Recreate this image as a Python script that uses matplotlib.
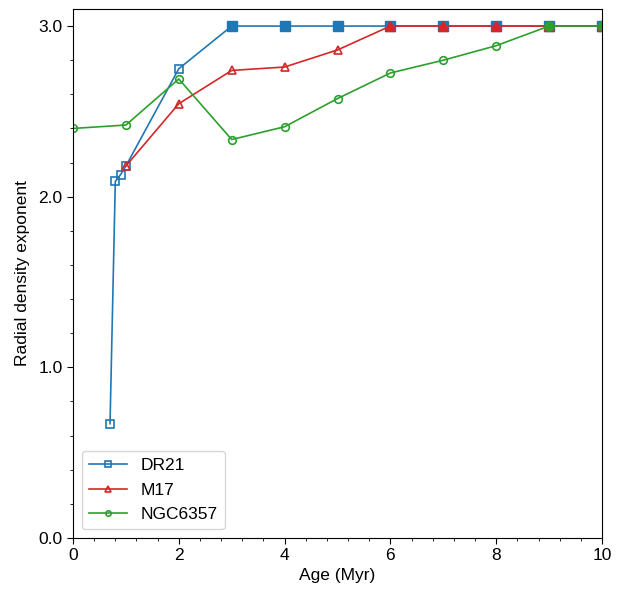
import matplotlib
matplotlib.use("Agg")
import matplotlib.pyplot as plt
from matplotlib.ticker import MultipleLocator, FormatStrFormatter
import numpy as np

plt.rcParams['font.family'] = ['Liberation Sans', 'DejaVu Sans']

dr21_x = [0.7, 0.8, 0.9, 1.0, 2.0, 3, 4, 5, 6, 7, 8, 9, 10]
dr21_y = [0.67, 2.09, 2.13, 2.18, 2.75, 3.0, 3.0, 3.0, 3.0, 3.0, 3.0, 3.0, 3.0]
m17_x = [1, 2, 3, 4, 5, 6, 7, 8, 9, 10]
m17_y = [2.18, 2.545, 2.74, 2.76, 2.86, 3.0, 3.0, 3.0, 3.0, 3.0]
ngc_x = [0, 1, 2, 3, 4, 5, 6, 7, 8, 9, 10]
ngc_y = [2.40, 2.42, 2.69, 2.335, 2.41, 2.575, 2.725, 2.80, 2.885, 3.0, 3.0]

series = [
    ("DR21", dr21_x, dr21_y, "#1f77b4", "s"),
    ("M17", m17_x, m17_y, "#d62728", "^"),
    ("NGC6357", ngc_x, ngc_y, "#2ca02c", "o"),
]

fig = plt.figure(figsize=(6.25, 5.92), dpi=100)
ax = fig.add_axes([0.1168, 0.0912, 0.8464, 0.8936])

for name, xs, ys, c, m in series:
    xs = np.array(xs); ys = np.array(ys)
    ax.plot(xs, ys, color=c, lw=1.2, marker=m, ms=5.5, mfc='none', mec=c, mew=1.2, label=name)
    cap = ys >= 3.0
    ax.plot(xs[cap], ys[cap], ls='none', marker=m, ms=6.5, mfc=c, mec=c, mew=1.0)

ax.set_xlim(0, 10)
ax.set_ylim(0, 3.1)
ax.xaxis.set_major_locator(MultipleLocator(2))
ax.xaxis.set_minor_locator(MultipleLocator(0.4))
ax.yaxis.set_major_locator(MultipleLocator(1.0))
ax.yaxis.set_minor_locator(MultipleLocator(0.2))
ax.yaxis.set_major_formatter(FormatStrFormatter('%.1f'))
ax.tick_params(which='major', length=4, labelsize=12.5)
ax.tick_params(which='minor', length=2.5)
ax.set_xlabel("Age (Myr)", fontsize=12.5, labelpad=3)
ax.set_ylabel("Radial density exponent", fontsize=12.5, labelpad=6)
ax.legend(loc='lower left', fontsize=12.5, markerscale=0.7, handlelength=2.2,
          borderaxespad=0.5, labelspacing=0.55)

fig.savefig("out.png", dpi=100)
